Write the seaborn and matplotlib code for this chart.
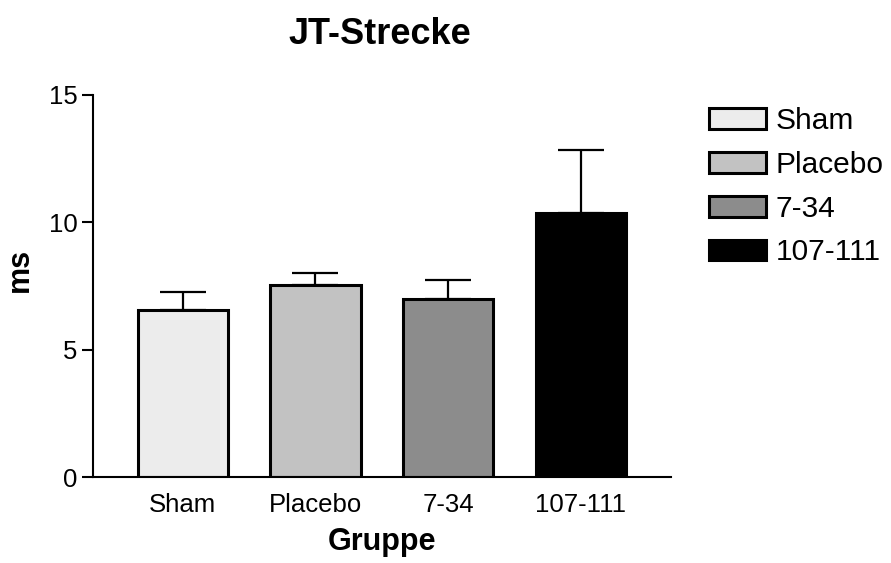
import matplotlib
matplotlib.use("Agg")
import matplotlib.pyplot as plt
import seaborn as sns
import numpy as np

groups = ["Sham", "Placebo", "7-34", "107-111"]
means = [6.58, 7.55, 6.99, 10.35]
sems = [0.68, 0.47, 0.75, 2.48]
colors = ["#ececec", "#c2c2c2", "#8c8c8c", "#000000"]
yticks = [0, 5, 10, 15]

sns.set_theme(style="ticks")
plt.rcParams["font.family"] = ["Liberation Sans", "DejaVu Sans"]
plt.rcParams["text.color"] = "black"
plt.rcParams["axes.labelcolor"] = "black"

fig = plt.figure(figsize=(8.91, 5.63), dpi=100)
ax = fig.add_axes([93 / 891, 1 - 477.3 / 563, (671 - 93) / 891, (477.3 - 94.8) / 563])

sns.barplot(x=groups, y=means, hue=groups, palette=colors, width=0.68,
            edgecolor="black", linewidth=2.2, legend=False, ax=ax, errorbar=None)
bars = list(ax.patches[:4])

ax.errorbar(groups, means, yerr=[np.zeros(len(sems)), sems], fmt="none",
            ecolor="black", elinewidth=1.6, capsize=16.5, capthick=1.6, zorder=5)

ax.set_xlim(-0.676, 3.68)
ax.set_ylim(0, 15)
ax.set_yticks(yticks)
ax.set_yticklabels([str(v) for v in yticks])
sns.despine(ax=ax)
for s in ["left", "bottom"]:
    ax.spines[s].set_linewidth(1.5)
    ax.spines[s].set_color("black")
ax.tick_params(axis="y", direction="out", length=8, width=1.5, pad=3, labelsize=18.5,
               colors="black")
ax.tick_params(axis="x", length=0, pad=11, labelsize=18.5, colors="black")

ax.set_xlabel("Gruppe", fontsize=22, fontweight="bold", color="black")
ax.xaxis.set_label_coords(0.5, -0.13)
ax.set_ylabel("")
fig.text(20 / 891, 1 - 270 / 563, "ms", fontsize=22, fontweight="bold", rotation=90,
         ha="center", va="center", color="black")

fig.text(380 / 891, 1 - 44 / 563, "JT-Strecke", fontsize=26, fontweight="bold",
         ha="center", va="baseline", color="black")

fig.legend(bars, groups, loc="upper left", bbox_to_anchor=(709 / 891, 1 - 107 / 563),
           frameon=False, fontsize=21.5, handlelength=1.9, handleheight=0.7,
           handletextpad=0.34, labelspacing=0.53, borderpad=0, borderaxespad=0,
           labelcolor="black")

fig.savefig("out.png", dpi=100)
